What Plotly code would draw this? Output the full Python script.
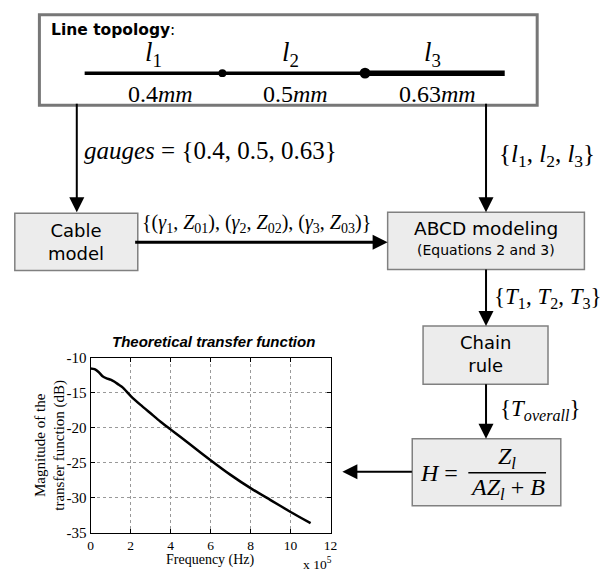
import plotly.graph_objects as go

W, H = 616, 575

# ---- data ----
freq_x1e5 = [0, 0.2, 0.4, 0.6, 0.8, 1.0, 1.2, 1.4, 1.6, 2.0, 2.5, 3.0, 3.5, 4.0, 4.5, 5.0, 6.0, 7.0, 8.0, 9.0, 10.0, 11.0]
mag_db = [-11.5, -11.6, -12.0, -12.6, -12.9, -13.1, -13.4, -13.8, -14.2, -15.4, -16.7, -17.9, -19.1, -20.2,
          -21.3, -22.4, -24.6, -26.7, -28.6, -30.3, -32.0, -33.6]
gauges = ["0.4", "0.5", "0.63"]
segment_names = ["1", "2", "3"]
x_ticks = [0, 2, 4, 6, 8, 10, 12]
y_ticks = [-10, -15, -20, -25, -30, -35]

SERIF = "Liberation Serif"
SANS = "DejaVu Sans"


def X(px):
    return px / W


def Y(py):
    return 1 - py / H


fig = go.Figure()
fig.add_trace(go.Scatter(x=freq_x1e5, y=mag_db, mode="lines",
                         line=dict(color="black", width=2.5, shape="spline", smoothing=0.6),
                         showlegend=False, hoverinfo="skip"))

shapes = []
annotations = []


def rect(x0, y0, x1, y1, fill="#ececec", line="#808080", lw=1.5):
    shapes.append(dict(type="rect", xref="paper", yref="paper",
                       x0=X(x0), x1=X(x1), y0=Y(y0), y1=Y(y1),
                       fillcolor=fill, line=dict(color=line, width=lw), layer="above"))


def seg(x0, y0, x1, y1, lw=2, color="black"):
    shapes.append(dict(type="line", xref="paper", yref="paper",
                       x0=X(x0), x1=X(x1), y0=Y(y0), y1=Y(y1),
                       line=dict(color=color, width=lw), layer="above"))


def dot(cx, cy, r):
    shapes.append(dict(type="circle", xref="paper", yref="paper",
                       x0=X(cx - r), x1=X(cx + r), y0=Y(cy + r), y1=Y(cy - r),
                       fillcolor="black", line=dict(color="black", width=0), layer="above"))


def text(x, y, s, size=22, family=SERIF, xanchor="center", color="black", angle=0):
    annotations.append(dict(xref="paper", yref="paper", x=X(x), y=Y(y), text=s,
                            showarrow=False, xanchor=xanchor, yanchor="middle",
                            textangle=angle,
                            font=dict(family=family, size=size, color=color)))


def arrow(x0, y0, x1, y1, lw=2, size=1.5):
    # tail (x0,y0) -> tip (x1,y1), in pixel coords
    annotations.append(dict(xref="paper", yref="paper", x=X(x1), y=Y(y1),
                            ax=x0 - x1, ay=y0 - y1, axref="pixel", ayref="pixel",
                            text="", showarrow=True, arrowhead=2, arrowsize=size,
                            arrowwidth=lw, arrowcolor="black", standoff=0, startstandoff=0))


# ---- top box: line topology ----
rect(37, 7, 543, 100, fill="white", line="#777777", lw=3)
text(47, 23, "<b>Line topology</b>:", size=15.5, family=SANS, xanchor="left")
seg(83, 67, 223, 67, lw=3.5)
seg(223, 67, 368, 67, lw=3.5)
seg(368, 67, 510, 67, lw=5.5)
dot(223, 67, 4)
dot(368, 67, 5.5)
for cx, n in zip([153, 292, 437], segment_names):
    text(cx, 47, f"<i>l</i><sub>{n}</sub>", size=27)
for cx, g in zip([160, 297, 442], gauges):
    text(cx, 88, f"{g}<i>mm</i>", size=24)

# ---- arrows from top box ----
arrow(75, 100, 75, 210)
arrow(491, 100, 491, 210)
text(211, 147, "<i>gauges</i> = {" + ", ".join(gauges) + "}", size=25)
text(553, 152, "{" + ", ".join(f"<i>l</i><sub>{n}</sub>" for n in segment_names) + "}", size=25)

# ---- cable model & ABCD ----
rect(12, 211, 137, 270)
text(74.5, 240.5, "Cable<br>model", size=18, family=SANS)
rect(391, 210, 591, 269)
text(491, 227, "ABCD modeling", size=18.5, family=SANS)
text(491, 249, "(Equations 2 and 3)", size=14, family=SANS)
arrow(137, 241, 391, 241, lw=3, size=1.0)
text(258, 222, "{" + ", ".join(f"(<i>γ</i><sub>{n}</sub>, <i>Z</i><sub>0{n}</sub>)" for n in segment_names) + "}",
     size=20)

# ---- chain rule ----
arrow(491, 269, 491, 327)
text(554, 298, "{" + ", ".join(f"<i>T</i><sub>{n}</sub>" for n in segment_names) + "}", size=23)
rect(427, 327, 554, 387)
text(490, 356, "Chain<br>rule", size=18, family=SANS)
arrow(491, 387, 491, 443)
text(546, 413, "{<i>T</i><sub><i>overall</i></sub>}", size=23)

# ---- H box ----
rect(416, 443, 567, 512)
text(443, 478, "<i>H</i> =", size=24)
seg(473, 478, 552, 478, lw=1.5)
text(512, 463, "<i>Z</i><sub><i>l</i></sub>", size=24)
text(513, 495, "<i>AZ</i><sub><i>l</i></sub> + <i>B</i>", size=24)
arrow(416, 477, 345, 477)

# ---- plot annotations ----
text(214, 343, "<b><i>Theoretical transfer function</i></b>", size=15, family="Liberation Sans")
text(211, 568, "Frequency (Hz)", size=14, family=SERIF)
text(48, 450, "Magnitude of the<br>transfer function (dB)", size=15, family=SERIF, angle=-90)
text(303, 571, "x 10<sup>5</sup>", size=13.5, family=SERIF, xanchor="left")

fig.update_layout(
    width=W, height=H,
    margin=dict(l=0, r=0, t=0, b=0),
    paper_bgcolor="white", plot_bgcolor="white",
    shapes=shapes, annotations=annotations,
    showlegend=False,
    xaxis=dict(domain=[X(89), X(333)], range=[0, 12], tickvals=x_ticks,
               ticktext=[str(v) for v in x_ticks],
               showline=True, linecolor="black", linewidth=1, mirror="ticks",
               ticks="inside", ticklen=4, tickcolor="black",
               showgrid=True, gridcolor="#999999", griddash="dot", gridwidth=1,
               zeroline=False, tickfont=dict(family=SERIF, size=13.5, color="black")),
    yaxis=dict(domain=[Y(540), Y(360)], range=[-35, -10], tickvals=y_ticks,
               ticktext=[str(v) for v in y_ticks],
               showline=True, linecolor="black", linewidth=1, mirror="ticks",
               ticks="inside", ticklen=4, tickcolor="black",
               showgrid=True, gridcolor="#999999", griddash="dot", gridwidth=1,
               zeroline=False, tickfont=dict(family=SERIF, size=15, color="black")),
)

fig.write_html("out.html")
